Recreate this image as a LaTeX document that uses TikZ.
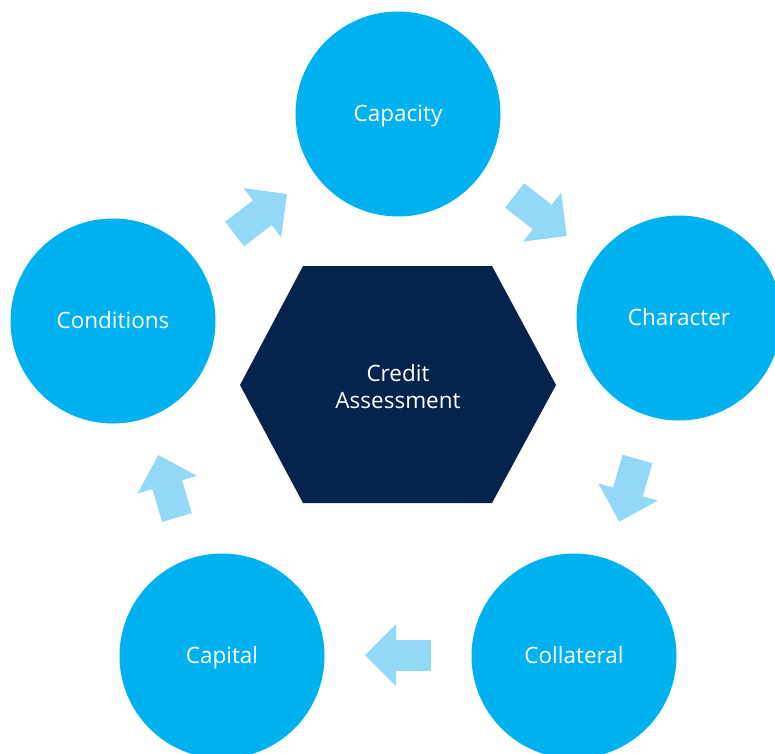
\documentclass[tikz,border=0pt]{standalone}
\usepackage{fontspec}
\setmainfont{Open Sans}
\usetikzlibrary{arrows.meta}
\definecolor{circblue}{HTML}{00B1F0}
\definecolor{arrblue}{HTML}{93D8F6}
\definecolor{hexnavy}{HTML}{05234D}
\tikzset{
  topic/.style={circle, fill=circblue, minimum size=205pt, inner sep=0pt,
    text=white, text height=20pt, text depth=4.6pt,
    font=\fontsize{22.5}{27}\selectfont},
  blockarrow/.style={draw=arrblue, line width=31pt, line cap=butt,
    -{Triangle[width=62pt,length=31pt,line width=0pt,fill=arrblue]}},
  hexlabel/.style={text=white, align=center, font=\fontsize{22.5}{27}\selectfont}
}
\begin{document}
\begin{tikzpicture}[x=1pt,y=-1pt]
\useasboundingbox (0,0) rectangle (775,753);
\clip (0,0) rectangle (775,753);
% central hexagon
\fill[hexnavy] (303,266) -- (492,266) -- (556,385) -- (492,503) -- (303,503) -- (240,385) -- cycle;
\node[hexlabel] (hex) at (398,387) {Credit\\Assessment};
% circles
\node[topic] (capacity)   at (398,114) {Capacity};
\node[topic] (character)  at (679,318) {Character};
\node[topic] (collateral) at (574,656) {Collateral};
\node[topic] (capital)    at (222,656) {Capital};
\node[topic] (conditions) at (113,321) {Conditions};
% arrow end points
\coordinate (a1s) at (234.5,234);   \coordinate (a1e) at (287,194);
\coordinate (a2s) at (514.5,195.5); \coordinate (a2e) at (566.7,236);
\coordinate (a3s) at (637.5,459);   \coordinate (a3e) at (619.3,521.7);
\coordinate (a4s) at (431,655);     \coordinate (a4e) at (365,655);
\coordinate (a5s) at (177,517.5);   \coordinate (a5e) at (158.3,455);
\draw[blockarrow] (a1s) -- (a1e);
\draw[blockarrow] (a2s) -- (a2e);
\draw[blockarrow] (a3s) -- (a3e);
\draw[blockarrow] (a4s) -- (a4e);
\draw[blockarrow] (a5s) -- (a5e);
\end{tikzpicture}
\end{document}
